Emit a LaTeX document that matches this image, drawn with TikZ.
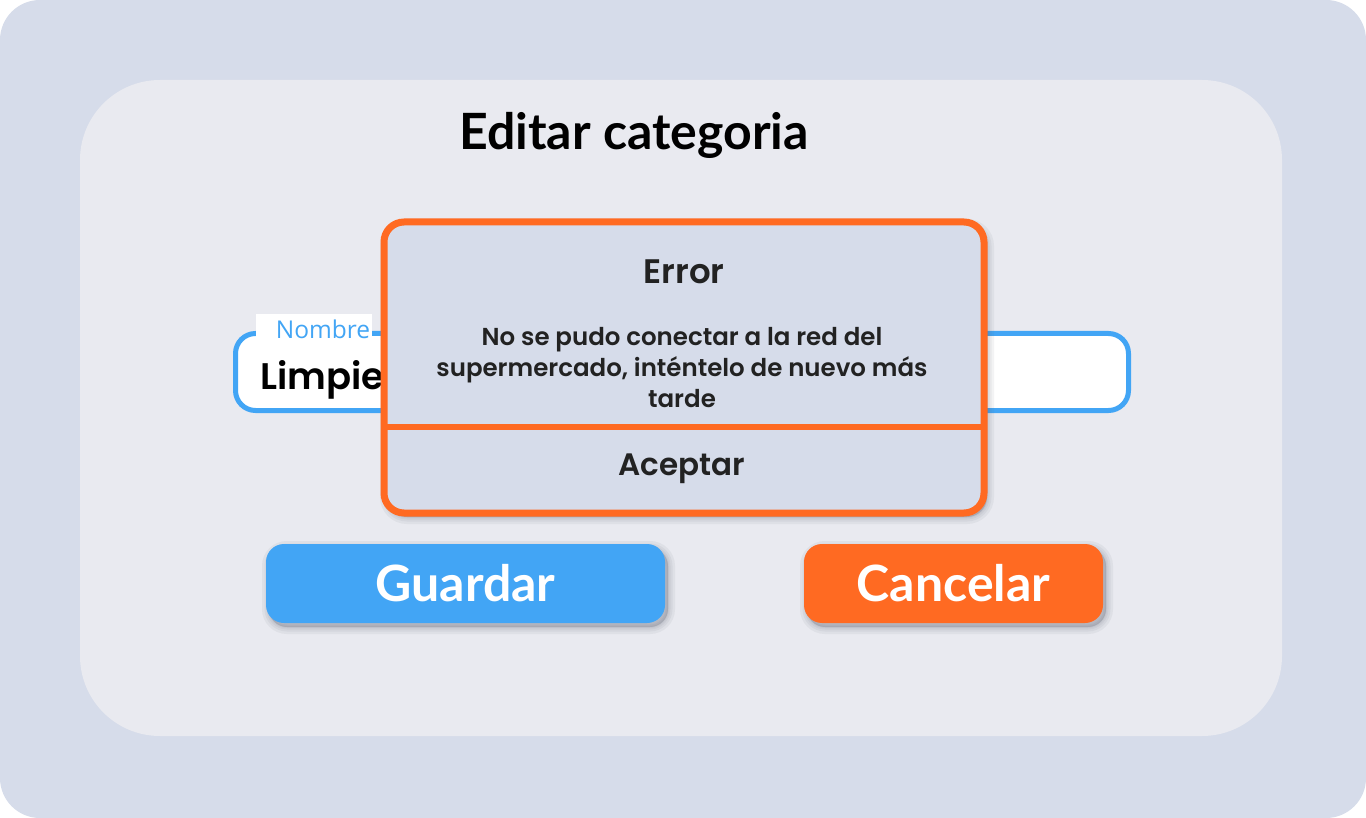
\documentclass[tikz,border=0pt]{standalone}
\usepackage{fontspec}
\setmainfont{Lato}
\newfontfamily\labelfont{Open Sans}
\newfontfamily\dialogfont{Poppins}[BoldFont={* SemiBold}]

\definecolor{outerbg}{HTML}{D6DCEA}
\definecolor{cardbg}{HTML}{E9EAF0}
\definecolor{fieldblue}{HTML}{42A5F5}
\definecolor{alertorange}{HTML}{FF6A22}
\definecolor{darktext}{HTML}{222222}
\definecolor{shadowgray}{HTML}{5A6070}

\tikzset{
	shadowring/.style={preaction={draw=shadowgray, fill=shadowgray, draw opacity=0.07, fill opacity=0.07, line width=#1, transform canvas={xshift=3pt, yshift=-4pt}}},
	softshadow/.style={shadowring=14pt, shadowring=9pt, shadowring=5pt, shadowring=2pt},
	buttonbox/.style={rounded corners=18pt, minimum width=#1, minimum height=79pt, inner sep=0pt, text=white, font=\bfseries\fontsize{50}{56}\selectfont, softshadow},
	buttonbox/.default=399pt}
\tikzset{every picture/.style={line width=0.75pt}}

\begin{document}
\begin{tikzpicture}[x=1pt,y=1pt,yscale=-1,xscale=1]
	\useasboundingbox (0,0) rectangle (1366,818);

	%Shape: Rectangle [id:page]
	\fill [white] (0,0) rectangle (1366,818);
	%Shape: Rounded Rect [id:outer]
	\fill [outerbg, rounded corners=40pt] (0,0) rectangle (1366,818);
	%Shape: Rounded Rect [id:card]
	\fill [cardbg, rounded corners=80pt] (80,80) rectangle (1282,736);

	% Text Node
	\node [font=\bfseries\fontsize{50}{56}\selectfont] (titulo) at (634,135) {Editar categoria};

	%Shape: Rounded Rect [id:campo]
	\node [draw=fieldblue, line width=5pt, fill=white, rounded corners=20pt, minimum width=893pt, minimum height=77pt] (campo) at (682,372) {};
	\node [fill=white, minimum width=116pt, minimum height=30pt, inner sep=0pt] (nombrebg) at (314,329) {};
	% Text Node
	\node [text=fieldblue, font=\labelfont\fontsize{24.5}{28}\selectfont, inner sep=0pt] (nombre) at (323,329) {Nombre};
	% Text Node
	\node [anchor=base west, font=\dialogfont\bfseries\fontsize{37}{42}\selectfont, inner sep=0pt] (valor) at (260,389) {Limpie};

	%Shape: Rounded Rect [id:dialogo]
	\node [draw=alertorange, line width=7pt, fill=outerbg, rounded corners=20pt, minimum width=600pt, minimum height=291pt, softshadow] (dialogo) at (684,367.5) {};
	\coordinate (divizq) at (384,427);
	\coordinate (divder) at (984,427);
	%Straight Lines [id:divisor]
	\draw [alertorange, line width=6pt] (divizq) -- (divder);

	% Text Node
	\node [text=darktext, font=\dialogfont\bfseries\fontsize{34}{40}\selectfont] (errtitulo) at (684,272) {Error};
	% Text Node
	\node [text=darktext, align=center, font=\dialogfont\bfseries\fontsize{24.5}{31}\selectfont] (errmsg) at (682,368) {No se pudo conectar a la red del\\supermercado, inténtelo de nuevo más\\tarde};
	% Text Node
	\node [text=darktext, font=\dialogfont\bfseries\fontsize{31}{36}\selectfont] (aceptar) at (682,469) {Aceptar};

	%Shape: Rounded Rect [id:guardar]
	\node [buttonbox, fill=fieldblue] (guardar) at (465.5,583.5) {Guardar};
	%Shape: Rounded Rect [id:cancelar]
	\node [buttonbox=299pt, fill=alertorange] (cancelar) at (953.5,583.5) {Cancelar};

\end{tikzpicture}
\end{document}
